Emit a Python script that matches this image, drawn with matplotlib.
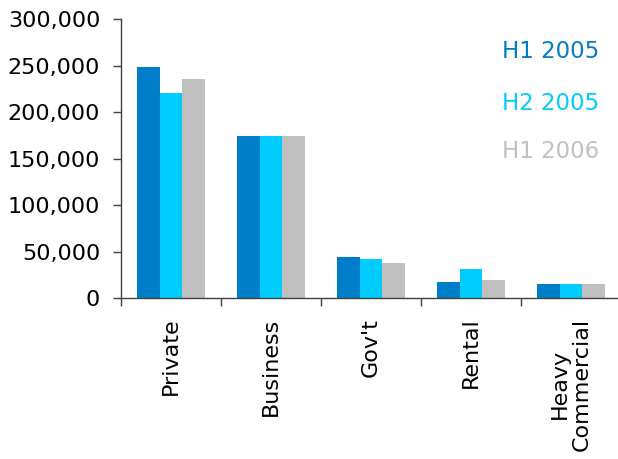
import matplotlib
matplotlib.use("Agg")
import matplotlib.pyplot as plt
import numpy as np
from matplotlib.ticker import FuncFormatter, FixedLocator

categories = ["Private", "Business", "Gov't", "Rental", "Heavy\nCommercial"]
series_names = ["H1 2005", "H2 2005", "H1 2006"]
h1_2005 = [248000, 174000, 44500, 17500, 15500]
h2_2005 = [221000, 174000, 42000, 31500, 15500]
h1_2006 = [235500, 174000, 38000, 19700, 15500]
colors = ["#007DC8", "#00CCFF", "#C0C0C0"]

plt.rcParams['font.family'] = ['DejaVu Sans']

fig = plt.figure(figsize=(6.18, 4.59), dpi=100)
ax = fig.add_axes([121/618, (459-298.3)/459, 500/618, (298.3-19)/459])

x = np.arange(len(categories))
w = 0.225
for i, (vals, c) in enumerate(zip([h1_2005, h2_2005, h1_2006], colors)):
    ax.bar(x + (i-1)*w, vals, width=w, color=c, edgecolor='none')

ax.set_xlim(-0.5, len(categories)-0.5)
ax.set_ylim(0, 300000)
ax.set_yticks(np.arange(0, 300001, 50000))
ax.yaxis.set_major_formatter(FuncFormatter(lambda v, p: f"{int(v):,}"))
ax.tick_params(axis='y', labelsize=16, length=6, width=1, color='#404040', pad=9)

ax.set_xticks(x)
ax.set_xticklabels(categories, rotation=90, fontsize=16, ha='center', va='top',
                   multialignment='center', linespacing=1.1)
ax.tick_params(axis='x', which='major', length=0, pad=14)
ax.xaxis.set_minor_locator(FixedLocator(np.arange(-0.5, len(categories), 1.0)))
ax.tick_params(axis='x', which='minor', length=6, width=1, color='#404040')

for s in ['top', 'right']:
    ax.spines[s].set_visible(False)
for s in ['left', 'bottom']:
    ax.spines[s].set_color('#404040')
    ax.spines[s].set_linewidth(1)

ys = [52, 103, 152]
for name, c, yp in zip(series_names, colors, ys):
    fig.text(502/618, 1 - yp/459, name, color=c, fontsize=16.5, ha='left', va='center')

fig.savefig("out.png", dpi=100)
